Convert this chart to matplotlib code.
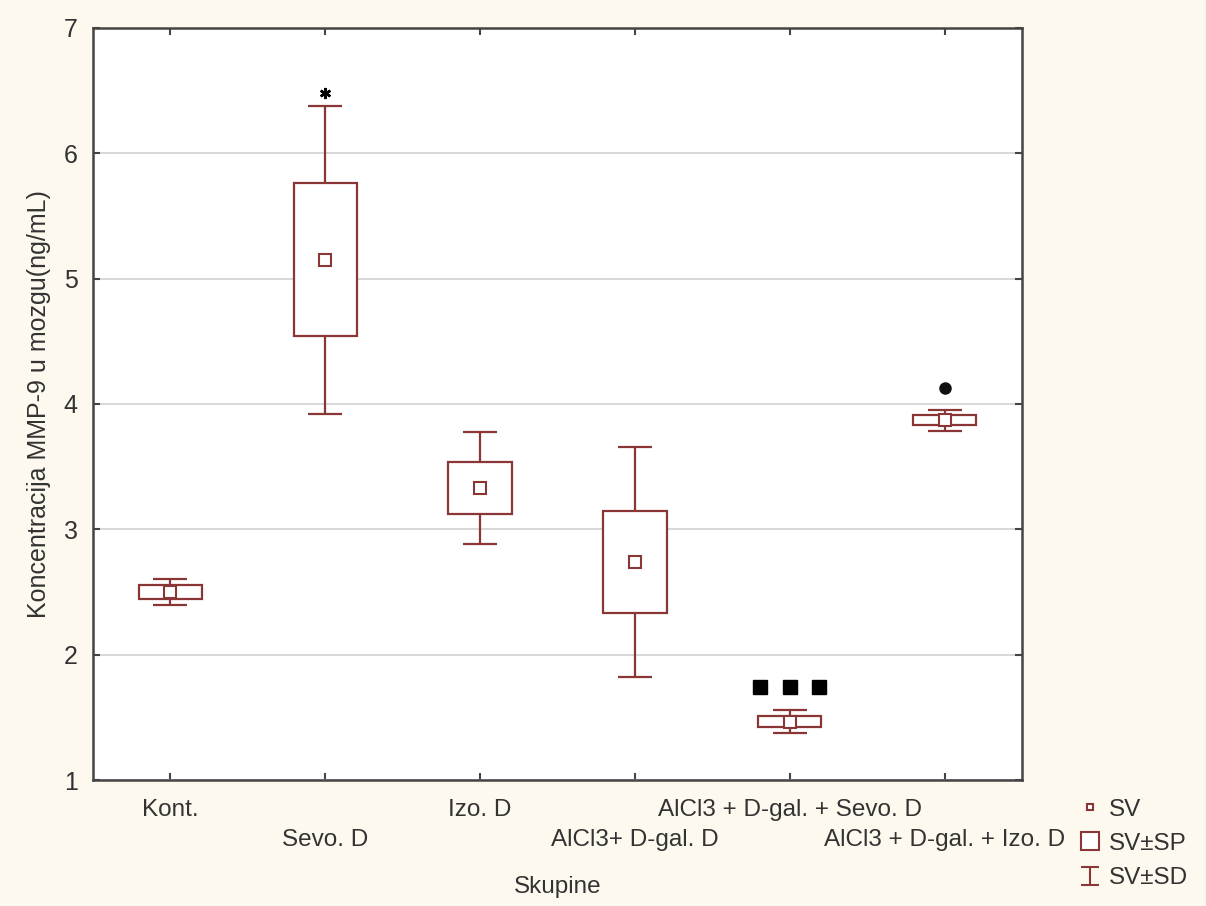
import numpy as np
import matplotlib
matplotlib.use("Agg")
import matplotlib.pyplot as plt
from matplotlib.lines import Line2D
from matplotlib.path import Path

plt.rcParams["font.family"] = ["Liberation Sans", "DejaVu Sans"]

# data (means, +/-SP box half widths, +/-SD whisker half widths)
groups = ["Kont.", "Sevo. D", "Izo. D", "AlCl3+ D-gal. D",
          "AlCl3 + D-gal. + Sevo. D", "AlCl3 + D-gal. + Izo. D"]
means = [2.50, 5.15, 3.33, 2.74, 1.465, 3.87]
sp = [0.055, 0.61, 0.205, 0.405, 0.045, 0.04]
sd = [0.10, 1.23, 0.45, 0.915, 0.09, 0.085]

# significance marks above groups
star_group, star_y = 1, 6.48
dot_group, dot_y = 5, 4.13
squares_group, squares_y = 4, 1.74

BOX_COLOR = "#8b3636"
TEXT_COLOR = "#333333"
SPINE_COLOR = "#444444"
FS = 17.5

fig = plt.figure(figsize=(12.06, 9.06), dpi=100, facecolor="#fdf9ee")
ax = fig.add_axes([93 / 1206, 1 - 780 / 906, 929 / 1206, 752 / 906])
ax.set_facecolor("white")

x = np.arange(len(groups))
means_a = np.array(means)
sp_a = np.array(sp)
sd_a = np.array(sd)

# whiskers (SD)
ax.errorbar(x, means_a, yerr=sd_a, fmt="none", ecolor=BOX_COLOR,
            elinewidth=1.6, capsize=12, capthick=1.6, zorder=3)
# boxes (SP)
ax.bar(x, 2 * sp_a, bottom=means_a - sp_a, width=0.41, facecolor="white",
       edgecolor=BOX_COLOR, linewidth=1.6, zorder=4)
# means
ax.plot(x, means_a, ls="none", marker="s", ms=8, mfc="white",
        mec=BOX_COLOR, mew=1.5, zorder=5)

# significance markers
ax.plot([x[star_group]], [star_y], marker=(6, 2, 0), ms=8, color="black",
        mew=1.8, ls="none", zorder=6)
ax.plot([x[dot_group]], [dot_y], marker="o", ms=8, color="#111111",
        ls="none", zorder=6)
ax.plot(x[squares_group] + np.array([-0.19, 0.0, 0.19]), [squares_y] * 3,
        marker="s", ms=10, color="black", ls="none", zorder=6)

ax.set_xlim(-0.5, 5.5)
ax.set_ylim(1, 7)
ax.set_yticks(range(1, 8))
ax.yaxis.grid(True, color="#d4d4d4", linewidth=1.3)
ax.set_axisbelow(True)

# staggered category labels: even groups on the first row, odd on the second
ax.set_xticks(x[::2])
ax.set_xticklabels(groups[::2])
ax.set_xticks(x[1::2], minor=True)
ax.set_xticklabels(groups[1::2], minor=True)

ax.tick_params(axis="both", which="both", direction="in", length=5, width=1.5,
               color=SPINE_COLOR, labelcolor=TEXT_COLOR, labelsize=FS,
               top=True, right=True)
ax.tick_params(axis="x", which="major", pad=13.5)
ax.tick_params(axis="x", which="minor", pad=35)
ax.tick_params(axis="y", pad=11, labelsize=18)

for s in ax.spines.values():
    s.set_color(SPINE_COLOR)
    s.set_linewidth(1.8)

ax.set_ylabel("Koncentracija MMP-9 u mozgu(ng/mL)", fontsize=18, color=TEXT_COLOR)
ax.yaxis.set_label_coords(-0.045, 0.5)
ax.set_xlabel("Skupine", fontsize=FS, color=TEXT_COLOR)
ax.xaxis.set_label_coords(0.5, -0.127)

# legend
ibeam = Path([(-1, 1), (1, 1), (0, 1), (0, -1), (-1, -1), (1, -1)],
             [Path.MOVETO, Path.LINETO, Path.MOVETO, Path.LINETO,
              Path.MOVETO, Path.LINETO])
h_sv = Line2D([], [], ls="none", marker="s", ms=5, mfc="white",
              mec=BOX_COLOR, mew=1.5)
h_sp = Line2D([], [], ls="none", marker="s", ms=13, mfc="white",
              mec=BOX_COLOR, mew=1.5)
h_sd = Line2D([], [], ls="none", marker=ibeam, ms=13, mfc="none",
              mec=BOX_COLOR, mew=1.5)
leg = fig.legend([h_sv, h_sp, h_sd], ["SV", "SV±SP", "SV±SD"],
                 loc="upper left", bbox_to_anchor=(1068 / 1206, 1 - 789 / 906),
                 frameon=False, fontsize=FS, handlelength=1.0,
                 handletextpad=0.3, labelspacing=0.5, borderaxespad=0)
for t in leg.get_texts():
    t.set_color(TEXT_COLOR)

fig.savefig("out.png", dpi=100, facecolor=fig.get_facecolor())
